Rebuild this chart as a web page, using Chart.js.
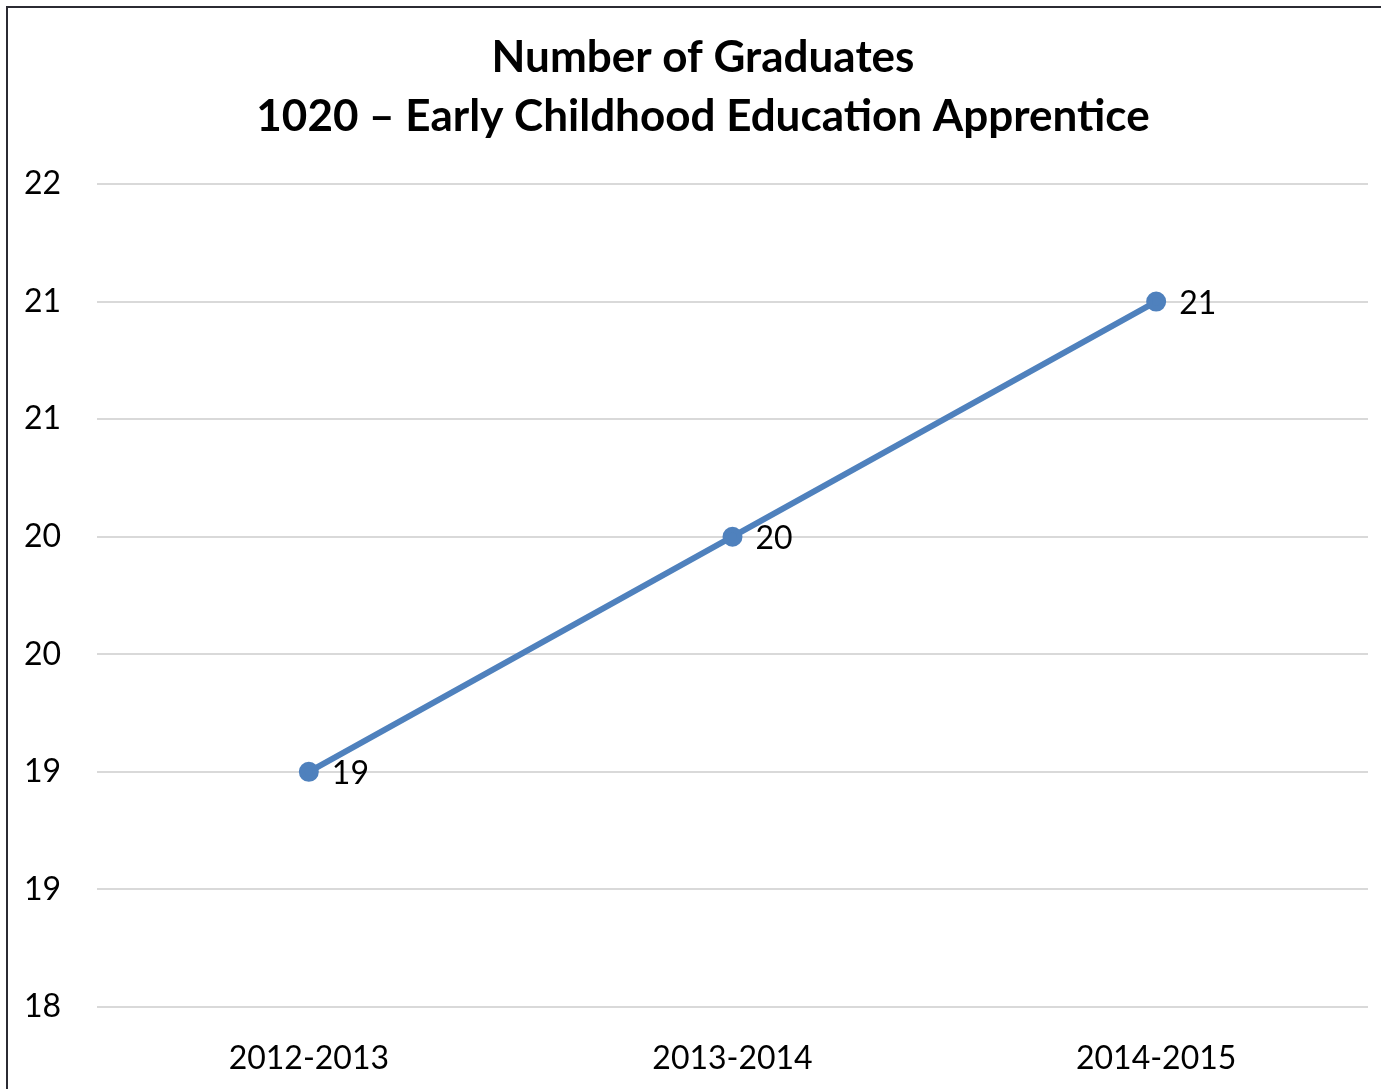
<!DOCTYPE html>
<html>
<head>
<meta charset="utf-8">
<script src="https://cdn.jsdelivr.net/npm/chart.js@4"></script>
<style>
  html, body { margin: 0; padding: 0; background: #fff; }
  .frame {
    position: absolute; left: 6px; top: 6px;
    width: 1375px; height: 1083px;
    border-left: 2px solid #2b2b33; border-top: 2px solid #2b2b33;
  }
  .frame canvas { display: block; }
</style>
</head>
<body>
<div class="frame"><canvas id="chart" width="1373" height="1081"></canvas></div>
<script>
const titleLines = ['Number of Graduates', '1020 \u2013 Early Childhood Education Apprentice'];
const years = ['2012-2013', '2013-2014', '2014-2015'];
const graduates = [19, 20, 21];
// Excel rounds the half steps, so the axis shows repeated numbers
const tickLabels = ['18', '19', '19', '20', '20', '21', '21', '22'];

const fontFamily = 'Lato, "Open Sans", sans-serif';

// the original title sits a little right of the canvas centre, so draw it by hand
const chartTitle = {
    id: 'chartTitle',
    afterDraw(chart) {
        const ctx = chart.ctx;
        ctx.save();
        ctx.font = 'bold 44px ' + fontFamily;
        ctx.fillStyle = '#000';
        ctx.textAlign = 'center';
        ctx.textBaseline = 'middle';
        titleLines.forEach((line, i) => {
            ctx.fillText(line, 695, 50 + i * 59);
        });
        ctx.restore();
    }
};

// value labels to the right of each point
const pointLabels = {
    id: 'pointLabels',
    afterDatasetsDraw(chart) {
        const ctx = chart.ctx;
        const meta = chart.getDatasetMeta(0);
        ctx.save();
        ctx.font = '32px ' + fontFamily;
        ctx.fillStyle = '#000';
        ctx.textAlign = 'left';
        ctx.textBaseline = 'middle';
        meta.data.forEach((pt, i) => {
            ctx.fillText(graduates[i], pt.x + 23, pt.y + 2);
        });
        ctx.restore();
    }
};

new Chart(document.getElementById('chart'), {
    type: 'line',
    data: {
        labels: years,
        datasets: [{
            label: 'Graduates',
            data: graduates,
            borderColor: '#4f81bd',
            backgroundColor: '#4f81bd',
            borderWidth: 6,
            pointRadius: 7,
            pointHoverRadius: 7,
            tension: 0
        }]
    },
    options: {
        responsive: false,
        animation: false,
        layout: { padding: { left: 0, right: 12, top: 176, bottom: 0 } },
        plugins: {
            legend: { display: false },
            tooltip: { enabled: false },
            title: { display: false }
        },
        scales: {
            x: {
                offset: true,
                afterFit(scale) { scale.height = 82; },
                grid: { display: false, drawTicks: false },
                border: { display: false },
                ticks: {
                    color: '#000',
                    font: { family: fontFamily, size: 32 },
                    padding: 32
                }
            },
            y: {
                min: 18,
                max: 21.5,
                afterFit(scale) { scale.width = 89; },
                grid: { color: '#d9d9d9', lineWidth: 2, drawTicks: false },
                border: { display: false },
                ticks: {
                    stepSize: 0.5,
                    color: '#000',
                    font: { family: fontFamily, size: 32 },
                    padding: 36,
                    callback: (value, index) => tickLabels[index]
                }
            }
        }
    },
    plugins: [pointLabels, chartTitle]
});
</script>
</body>
</html>
